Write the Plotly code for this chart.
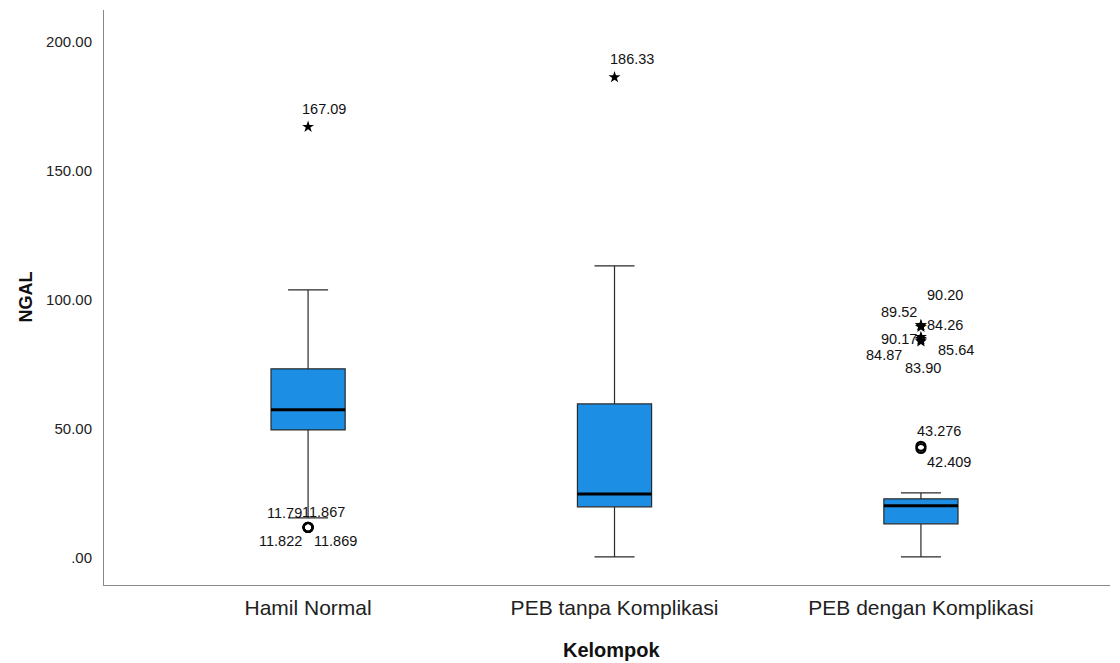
import plotly.graph_objects as go

# ---- data ----
categories = ["Hamil Normal", "PEB tanpa Komplikasi", "PEB dengan Komplikasi"]
q1 = [49.6, 19.8, 13.2]
median = [57.4, 24.8, 20.2]
q3 = [73.3, 59.7, 22.9]
lower_fence = [15.5, 0.4, 0.4]
upper_fence = [103.9, 113.2, 25.2]

# outliers (circles)
out_group = [0, 0, 0, 0, 2, 2]
out_value = [11.79, 11.867, 11.822, 11.869, 43.276, 42.409]
out_label = ["11.79", "11.867", "11.822", "11.869", "43.276", "42.409"]

# extremes (stars)
ext_group = [0, 1, 2, 2, 2, 2, 2, 2, 2]
ext_value = [167.09, 186.33, 90.20, 89.52, 84.26, 90.17, 85.64, 84.87, 83.90]
ext_label = ["167.09", "186.33", "90.20", "89.52", "84.26", "90.17", "85.64", "84.87", "83.90"]

y_tickvals = [0, 50, 100, 150, 200]
y_ticktext = [".00", "50.00", "100.00", "150.00", "200.00"]

# label offsets (pixel styling, SPSS-like placement)
out_shift = [(-43, 15), (-8, 15), (-51, -14), (4, -14), (-6, 15), (4, -13)]
ext_shift = [(-8, 18), (-7, 18), (4, 30), (-42, 15), (4, 16), (-42, -14), (15, -13), (-57, -16), (-18, -27)]

BOX_W = 0.242
FILL = "rgb(28,143,228)"
FONT = "Liberation Sans, Arial, sans-serif"
LBL = 14.5

fig = go.Figure()
for i, c in enumerate(categories):
    fig.add_trace(go.Box(
        x=[i], q1=[q1[i]], median=[median[i]], q3=[q3[i]],
        lowerfence=[lower_fence[i]], upperfence=[upper_fence[i]],
        width=BOX_W, whiskerwidth=0.54, fillcolor=FILL,
        line=dict(color="#2a2a2a", width=1.2), boxpoints=False,
        showlegend=False, name=c, hoverinfo="skip"))
    fig.add_shape(type="line", x0=i - BOX_W / 2, x1=i + BOX_W / 2,
                  y0=median[i], y1=median[i], line=dict(color="black", width=3))

fig.add_trace(go.Scatter(
    x=out_group, y=out_value, mode="markers", showlegend=False,
    marker=dict(symbol="circle-open", size=9, color="black", line=dict(width=2.2, color="black"))))
fig.add_trace(go.Scatter(
    x=ext_group, y=ext_value, mode="markers", showlegend=False,
    marker=dict(symbol="star", size=9, color="black", line=dict(width=0))))

for g, v, t, (dx, dy) in zip(out_group, out_value, out_label, out_shift):
    fig.add_annotation(x=g, y=v, text=t, showarrow=False, xanchor="left", yanchor="middle",
                       xshift=dx, yshift=dy, font=dict(family=FONT, size=LBL, color="#111"))
for g, v, t, (dx, dy) in zip(ext_group, ext_value, ext_label, ext_shift):
    fig.add_annotation(x=g, y=v, text=t, showarrow=False, xanchor="left", yanchor="middle",
                       xshift=dx, yshift=dy, font=dict(family=FONT, size=LBL, color="#111"))

# axis titles
fig.add_annotation(xref="paper", yref="paper", x=-0.0785, y=0.5, xanchor="center", yanchor="middle",
                   text="<b>NGAL</b>", textangle=-90, showarrow=False,
                   font=dict(family=FONT, size=18, color="#111"))
fig.add_annotation(xref="paper", yref="paper", x=0.505, y=-0.113, xanchor="center", yanchor="middle",
                   text="<b>Kelompok</b>", showarrow=False, font=dict(family=FONT, size=20, color="#111"))

fig.update_layout(
    width=1112, height=655,
    margin=dict(l=96, r=10, t=2, b=78),
    plot_bgcolor="white", paper_bgcolor="white",
    font=dict(family=FONT, color="#111"),
    xaxis=dict(range=[-0.666, 2.617], tickvals=[0, 1, 2], ticktext=categories,
               showline=True, linecolor="#888", linewidth=1, showgrid=False, zeroline=False,
               ticks="", tickfont=dict(size=21, color="#222"), ticklabelstandoff=4),
    yaxis=dict(range=[-10.5, 212.4], tickvals=y_tickvals, ticktext=y_ticktext,
               showline=True, linecolor="#888", linewidth=1, showgrid=False, zeroline=False,
               ticks="", tickfont=dict(size=15, color="#222"), ticklabelstandoff=8),
)

fig.write_html("out.html")
